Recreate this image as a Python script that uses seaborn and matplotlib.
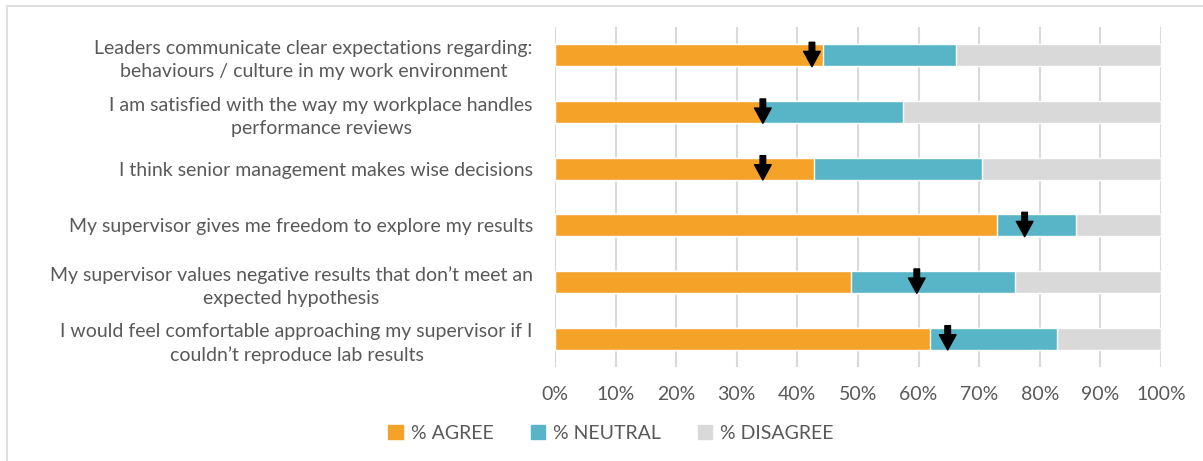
import numpy as np
import pandas as pd
import matplotlib
matplotlib.use("Agg")
import matplotlib.pyplot as plt
import matplotlib.patches as mpatches
import seaborn as sns

# ─── Data ─────────────────────────────────────────────────
questions = [
    "Leaders communicate clear expectations regarding:\nbehaviours / culture in my work environment",
    "I am satisfied with the way my workplace handles\nperformance reviews",
    "I think senior management makes wise decisions",
    "My supervisor gives me freedom to explore my results",
    "My supervisor values negative results that don\u2019t meet an\nexpected hypothesis",
    "I would feel comfortable approaching my supervisor if I\ncouldn\u2019t reproduce lab results",
]
agree = [44.2, 34.2, 42.8, 72.9, 48.9, 61.9]
neutral = [22.0, 23.3, 27.7, 13.0, 27.0, 21.0]
disagree = [33.8, 42.5, 29.5, 14.1, 24.1, 17.1]
benchmark = [42.4, 34.3, 34.3, 77.5, 59.7, 64.8]   # black arrows
x_ticks = list(range(0, 101, 10))

# ─── Style ────────────────────────────────────────────────
ORANGE = "#F4A328"
TEAL = "#57B5C7"
GREY = "#D9D9D9"
TEXT = "#595959"
FS = 14

sns.set_theme(style="white")
plt.rcParams["font.family"] = ["Lato", "DejaVu Sans"]
plt.rcParams["text.color"] = TEXT

df = pd.DataFrame({"question": questions, "agree": agree,
                   "neutral": neutral, "disagree": disagree})
df["cum_neutral"] = df["agree"] + df["neutral"]
df["cum_total"] = df["cum_neutral"] + df["disagree"]

fig = plt.figure(figsize=(12.03, 4.61), dpi=100)
ax = fig.add_axes([555 / 1203, 1 - 367 / 461, 606 / 1203, 340 / 461])

# stacked bars: draw the running totals back to front
for col, colour in [("cum_total", GREY), ("cum_neutral", TEAL), ("agree", ORANGE)]:
    sns.barplot(data=df, x=col, y="question", color=colour, width=0.39,
                saturation=1, ax=ax, orient="h")

# benchmark arrows
for i, b in enumerate(benchmark):
    ax.annotate("", xy=(b, i + 0.2), xytext=(b, i - 0.23),
                arrowprops=dict(arrowstyle="simple,head_length=1.1,head_width=1.2,tail_width=0.4",
                                mutation_scale=10, color="black", shrinkA=0, shrinkB=0),
                zorder=5)

ax.set_xlim(0, 100)
ax.set_ylim(5.5, -0.5)
ax.set_xticks(x_ticks)
ax.set_xticklabels([f"{t}%" for t in x_ticks], fontsize=FS, color=TEXT)
ax.tick_params(axis="x", length=0, pad=14)
ax.tick_params(axis="y", length=0, pad=16)
for lbl in ax.get_yticklabels():
    lbl.set_fontsize(FS)
    lbl.set_color(TEXT)
    lbl.set_multialignment("center")
    lbl.set_linespacing(1.45)
ax.set_xlabel("")
ax.set_ylabel("")
ax.grid(axis="x", color=GREY, linewidth=1.5)
ax.set_axisbelow(True)
for s in ax.spines.values():
    s.set_visible(False)

# legend
handles = [mpatches.Patch(color=ORANGE, label="% AGREE"),
           mpatches.Patch(color=TEAL, label="% NEUTRAL"),
           mpatches.Patch(color=GREY, label="% DISAGREE")]
fig.legend(handles=handles, loc="center", bbox_to_anchor=(611 / 1203, 1 - 433 / 461),
           ncol=3, frameon=False, fontsize=FS, handlelength=0.75, handleheight=0.75,
           handletextpad=0.4, columnspacing=1.9, labelcolor=TEXT)

# outer chart border
fig.add_artist(mpatches.Rectangle((7 / 1203, -0.1), 1.2, 1 - 6 / 461 + 0.1,
                                  transform=fig.transFigure, fill=False,
                                  edgecolor=GREY, linewidth=1.2))

fig.savefig("out.png", dpi=100)
